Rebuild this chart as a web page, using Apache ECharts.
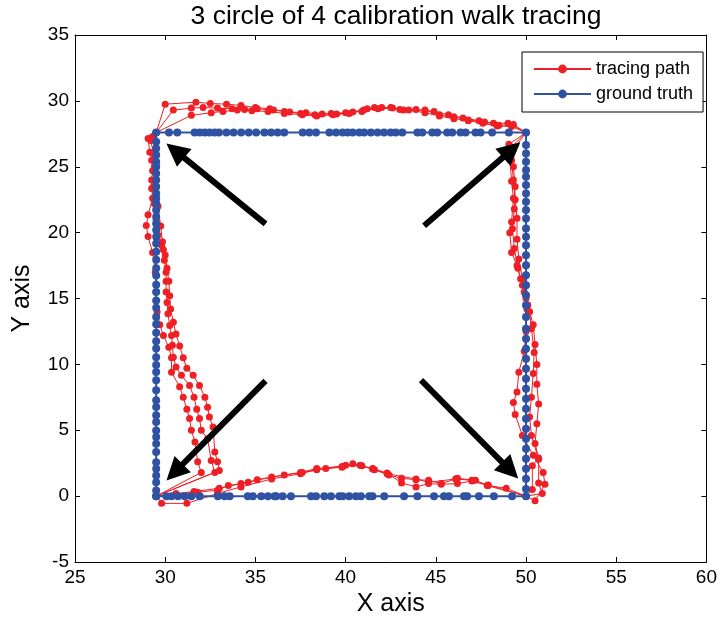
<!DOCTYPE html>
<html>
<head>
<meta charset="utf-8">
<script src="https://cdn.jsdelivr.net/npm/echarts@6/dist/echarts.min.js"></script>
<style>html,body{margin:0;padding:0;background:#fff;}#c{width:720px;height:628px;}</style>
</head>
<body>
<div id="c"></div>
<script>
// ---- Ground-truth rectangle corners ----
const gtX0 = 29.5, gtX1 = 50, gtY0 = 0, gtY1 = 27.6;
// ground-truth dot positions along each edge
const gtBottomX = [30.07, 30.35, 30.71, 31.08, 31.45, 31.91, 32.92, 33.29, 33.57, 34.58, 34.86, 35.32, 35.69, 36.06, 36.15, 36.51, 36.97, 38.08, 38.36, 38.82, 39.19, 39.65, 39.83, 40.2, 40.57, 40.85, 41.31, 41.49, 42.14, 43.24, 43.98, 44.9, 45.45, 45.73, 46.56, 46.74, 47.39, 48.22, 49.23];
const gtRightY = [0.55, 1.31, 2.07, 2.83, 3.59, 4.35, 5.11, 5.87, 6.63, 7.39, 8.15, 8.91, 9.67, 10.43, 11.19, 11.95, 12.71, 13.6, 14.49, 15.25, 16.01, 16.77, 17.53, 18.29, 19.05, 19.68, 20.31, 21.07, 21.71, 22.34, 22.97, 23.61, 24.24, 24.75, 25.38, 26.01, 26.65];
const gtTopX = [49.05, 48.12, 47.48, 47.2, 46.65, 46.37, 45.91, 45.63, 45.08, 44.8, 44.25, 43.98, 43.14, 42.78, 42.5, 42.13, 41.77, 41.4, 41.03, 40.76, 40.39, 40.11, 39.83, 39.47, 39.1, 38.36, 37.99, 37.62, 36.6, 36.23, 35.87, 35.5, 35.04, 34.63, 34.21, 33.79, 33.39, 32.98, 32.74, 32.46, 32.19, 31.91, 31.63, 30.67, 30.21];
const gtLeftY = [26.9, 26.39, 25.89, 25.38, 25.0, 24.49, 23.99, 23.48, 22.97, 22.59, 22.21, 21.71, 21.2, 20.69, 20.19, 19.68, 19.17, 18.55, 17.95, 17.3, 16.75, 16.05, 15.5, 14.85, 14.3, 13.6, 13.05, 12.4, 11.75, 11.2, 10.55, 9.95, 9.42, 8.79, 8.03, 7.27, 6.76, 6.13, 5.62, 4.99, 4.48, 3.97, 3.34, 2.58, 2.07, 1.57, 1.06, 0.43];

// ---- Tracing path, three laps, each edge separately ----
const lap1Bottom = [[29.8,-0.55],[31.2,-0.55],[32.9,0.2],[34.2,0.7],[35.9,1.3],[37.5,1.7],[38.4,2.0],[39.8,2.2],[40.4,2.45],[41.5,2.1],[42.3,1.75],[43.1,1.0],[43.9,0.7],[44.6,0.95],[45.3,0.9],[46.2,0.95],[47.0,1.15],[47.9,0.8],[48.9,0.6]];
const lap1Right = [[50.5,-0.35],[51.05,0.9],[50.95,1.8],[50.4,3.1],[49.8,4.6],[49.4,6.2],[49.3,7.1],[49.5,7.9],[49.6,9.4],[49.9,11.0],[50.0,12.5],[50.05,14.2],[49.9,15.5],[49.7,16.5],[49.5,17.5],[49.2,18.5],[49.1,20.0],[49.2,20.8],[49.3,22.6],[49.2,23.9],[49.1,25.7],[49.05,26.7]];
const lap1Top = [[49.3,28.2],[48.5,28.15],[47.7,28.4],[46.8,28.55],[46.0,28.8],[45.2,28.95],[44.4,29.3],[43.2,29.3],[42.5,29.5],[41.6,29.5],[40.9,29.2],[40.0,29.1],[39.2,29.05],[38.3,28.95],[37.5,29.05],[36.6,29.2],[35.8,29.4],[35.0,29.5],[34.2,29.65],[33.4,29.75],[32.5,29.8],[31.7,29.9],[30.0,29.75]];
const lap1Left = [[29.05,27.15],[29.15,26.1],[29.25,25.5],[29.3,24.7],[29.25,24.0],[29.25,23.35],[29.3,22.6],[29.05,21.35],[28.95,20.55],[29.05,19.7],[29.3,18.5],[29.45,17.0],[29.5,15.5],[29.55,14.0],[29.7,13.0],[29.9,12.2],[30.2,11.3],[30.35,10.5],[30.35,9.4],[30.8,8.3],[31.0,7.5],[31.2,6.6],[31.35,5.9],[31.45,5.0],[31.65,4.1],[31.8,2.6],[32.0,1.8]];

const lap2Bottom = [[31.8,0.3],[32.9,0.45],[33.5,0.8],[34.6,1.05],[35.1,1.25],[36.6,1.6],[37.6,1.8],[38.9,2.1],[40.0,2.35],[40.9,2.3],[41.5,2.05],[42.3,1.7],[43.9,1.3],[44.6,1.05],[46.1,1.3],[47.0,1.2],[47.9,0.85]];
const lap2Right = [[50.9,0.2],[50.7,1.0],[50.7,2.8],[50.3,4.6],[50.2,6.0],[50.3,7.5],[50.4,9.3],[50.45,10.9],[50.3,12.7],[50.2,14.0],[50.0,15.0],[49.8,16.5],[49.6,18.0],[49.5,19.5],[49.5,21.1],[49.4,22.5],[49.3,24.0],[49.2,25.5],[49.2,26.5]];
const lap2Top = [[49.0,28.3],[48.2,28.3],[47.4,28.5],[46.5,28.7],[45.7,28.95],[44.9,29.2],[43.9,29.35],[43.0,29.35],[42.0,29.5],[41.2,29.4],[40.4,29.15],[39.5,29.0],[38.7,29.0],[37.8,29.1],[36.9,29.15],[36.0,29.3],[35.1,29.4],[34.4,29.35],[33.7,29.4],[32.9,29.45],[32.1,29.5],[31.45,29.45],[30.45,29.3]];
const lap2Left = [[29.2,27.0],[29.35,26.0],[29.4,24.8],[29.35,23.5],[29.4,22.2],[29.5,21.0],[29.6,19.8],[29.8,19.05],[29.9,18.7],[29.95,17.9],[30.05,17.0],[30.05,16.3],[30.05,15.5],[30.1,14.7],[30.15,13.85],[30.25,12.95],[30.35,12.2],[30.4,11.45],[30.45,10.55],[30.6,9.8],[30.9,9.17],[31.35,8.4],[31.6,7.5],[31.75,6.6],[31.9,5.9],[32.0,5.0],[32.35,4.35],[32.55,2.7],[32.75,1.8]];

const lap3Bottom = [[30.6,0.2],[31.6,0.35],[33.0,0.6],[34.2,0.95],[35.9,1.45],[37.5,1.8],[38.4,2.1],[39.8,2.25],[40.8,2.35],[41.6,2.0],[42.4,1.6],[43.1,1.35],[43.9,1.25],[44.6,1.2],[45.3,0.95],[46.2,1.35],[47.2,1.2],[47.85,0.8]];
const lap3Right = [[50.35,0.5],[50.35,2.3],[50.7,2.9],[50.5,4.0],[50.6,5.5],[50.7,7.0],[50.6,8.5],[50.6,10.0],[50.5,11.5],[50.4,13.0],[50.1,14.5],[49.8,16.0],[49.55,17.3],[49.35,18.8],[49.25,20.3],[49.35,21.8],[49.4,23.5],[49.3,25.0],[49.3,26.3]];
const lap3Top = [[49.2,28.05],[48.4,28.1],[47.6,28.3],[46.8,28.5],[46.0,28.65],[45.2,28.85],[44.4,29.1],[43.5,29.3],[42.6,29.45],[41.8,29.4],[41.0,29.3],[40.2,29.05],[39.3,28.95],[38.4,28.85],[37.6,28.95],[36.6,29.05],[35.7,29.2],[34.8,29.25],[34.0,29.3],[33.2,29.2],[32.55,29.1],[31.45,28.9]];
const lap3Left = [[29.3,27.3],[29.45,26.3],[29.4,25.0],[29.5,23.5],[29.6,22.0],[29.75,20.5],[29.85,19.3],[30.0,18.3],[30.1,17.3],[30.2,16.3],[30.25,15.2],[30.3,14.2],[30.45,13.2],[30.6,12.3],[30.8,11.4],[31.0,10.5],[31.2,9.7],[31.55,9.17],[31.9,8.4],[32.2,7.5],[32.35,6.75],[32.45,6.0],[32.65,5.25],[32.75,3.35],[32.9,2.6],[33.0,1.95]];

// ---- Annotation arrows: [tail, head] in data units ----
const arrowTL = [[35.56,20.67],[30.56,26.22]];
const arrowTR = [[44.35,20.52],[49.2,26.28]];
const arrowBL = [[35.56,8.74],[30.52,1.81]];
const arrowBR = [[44.18,8.81],[49.12,1.96]];

// ---- Build series data ----
const cBL = [gtX0, gtY0], cBR = [gtX1, gtY0], cTR = [gtX1, gtY1], cTL = [gtX0, gtY1];
const laps = [[lap1Bottom, lap1Right, lap1Top, lap1Left],[lap2Bottom, lap2Right, lap2Top, lap2Left],[lap3Bottom, lap3Right, lap3Top, lap3Left]];
const tracing = [];
laps.forEach(l => {
  tracing.push(cBL, ...l[0], cBR, ...l[1], cTR, ...l[2], cTL, ...l[3]);
});
tracing.push(cBL);

const truth = [cBL];
gtBottomX.forEach(x => truth.push([x, gtY0]));
truth.push(cBR);
gtRightY.forEach(y => truth.push([gtX1, y]));
truth.push(cTR);
gtTopX.forEach(x => truth.push([x, gtY1]));
truth.push(cTL);
gtLeftY.forEach(y => truth.push([gtX0, y]));
truth.push(cBL);

const FONT = 'Liberation Sans, Arial, sans-serif';
const RED = '#ee1f25';
const BLUE = '#2f52a3';

const axisCommon = {
  axisLine: {show: true, onZero: false, lineStyle: {color: '#000', width: 1}},
  axisTick: {show: true, inside: true, length: 5, lineStyle: {color: '#000'}},
  splitLine: {show: false}
};

const chart = echarts.init(document.getElementById('c'), null, {renderer: 'canvas'});
chart.setOption({
  animation: false,
  backgroundColor: '#fff',
  title: {
    text: '3 circle of 4 calibration walk tracing',
    left: 391, textAlign: 'center', top: -2,
    textStyle: {fontFamily: FONT, fontSize: 26.5, fontWeight: 'normal', color: '#000'}
  },
  legend: {
    data: ['tracing path', 'ground truth'],
    orient: 'vertical', left: 522, top: 52,
    backgroundColor: '#fff', borderColor: '#000', borderWidth: 1, borderRadius: 0,
    padding: [8, 10, 9, 11], itemGap: 7, itemWidth: 57, itemHeight: 11,
    textStyle: {fontFamily: FONT, fontSize: 18, color: '#000'}
  },
  grid: {left: 75, right: 12, top: 35, bottom: 66},
  xAxis: [
    Object.assign({}, axisCommon, {
      type: 'value', min: 25, max: 60, interval: 5, position: 'bottom',
      name: 'X axis', nameLocation: 'middle', nameGap: 30,
      nameTextStyle: {fontFamily: FONT, fontSize: 25, color: '#000'},
      axisLabel: {fontFamily: FONT, fontSize: 19, color: '#000', margin: 6}
    }),
    Object.assign({}, axisCommon, {
      type: 'value', min: 25, max: 60, interval: 5, position: 'top',
      axisLabel: {show: false}
    })
  ],
  yAxis: [
    Object.assign({}, axisCommon, {
      type: 'value', min: -5, max: 35, interval: 5, position: 'left',
      name: 'Y axis', nameLocation: 'middle', nameGap: 40,
      nameTextStyle: {fontFamily: FONT, fontSize: 25, color: '#000'},
      axisLabel: {fontFamily: FONT, fontSize: 19, color: '#000', margin: 6}
    }),
    Object.assign({}, axisCommon, {
      type: 'value', min: -5, max: 35, interval: 5, position: 'right',
      axisLabel: {show: false}
    })
  ],
  series: [
    {
      name: 'tracing path', type: 'line', data: tracing,
      xAxisIndex: 0, yAxisIndex: 0,
      symbol: 'circle', symbolSize: 7, showSymbol: true,
      lineStyle: {color: RED, width: 1}, itemStyle: {color: RED},
      emphasis: {disabled: true}, z: 2
    },
    {
      name: 'ground truth', type: 'line', data: truth,
      xAxisIndex: 0, yAxisIndex: 0,
      symbol: 'circle', symbolSize: 8, showSymbol: true,
      lineStyle: {color: BLUE, width: 2}, itemStyle: {color: BLUE},
      emphasis: {disabled: true}, z: 3
    },
    {
      name: 'arrows', type: 'lines', coordinateSystem: 'cartesian2d',
      xAxisIndex: 0, yAxisIndex: 0,
      symbol: ['none', 'triangle'], symbolSize: [21, 23],
      lineStyle: {color: '#000', width: 6, opacity: 1, curveness: 0},
      itemStyle: {color: '#000'},
      data: [{coords: arrowTL}, {coords: arrowTR}, {coords: arrowBL}, {coords: arrowBR}],
      z: 5, silent: true
    }
  ]
});
</script>
</body>
</html>
